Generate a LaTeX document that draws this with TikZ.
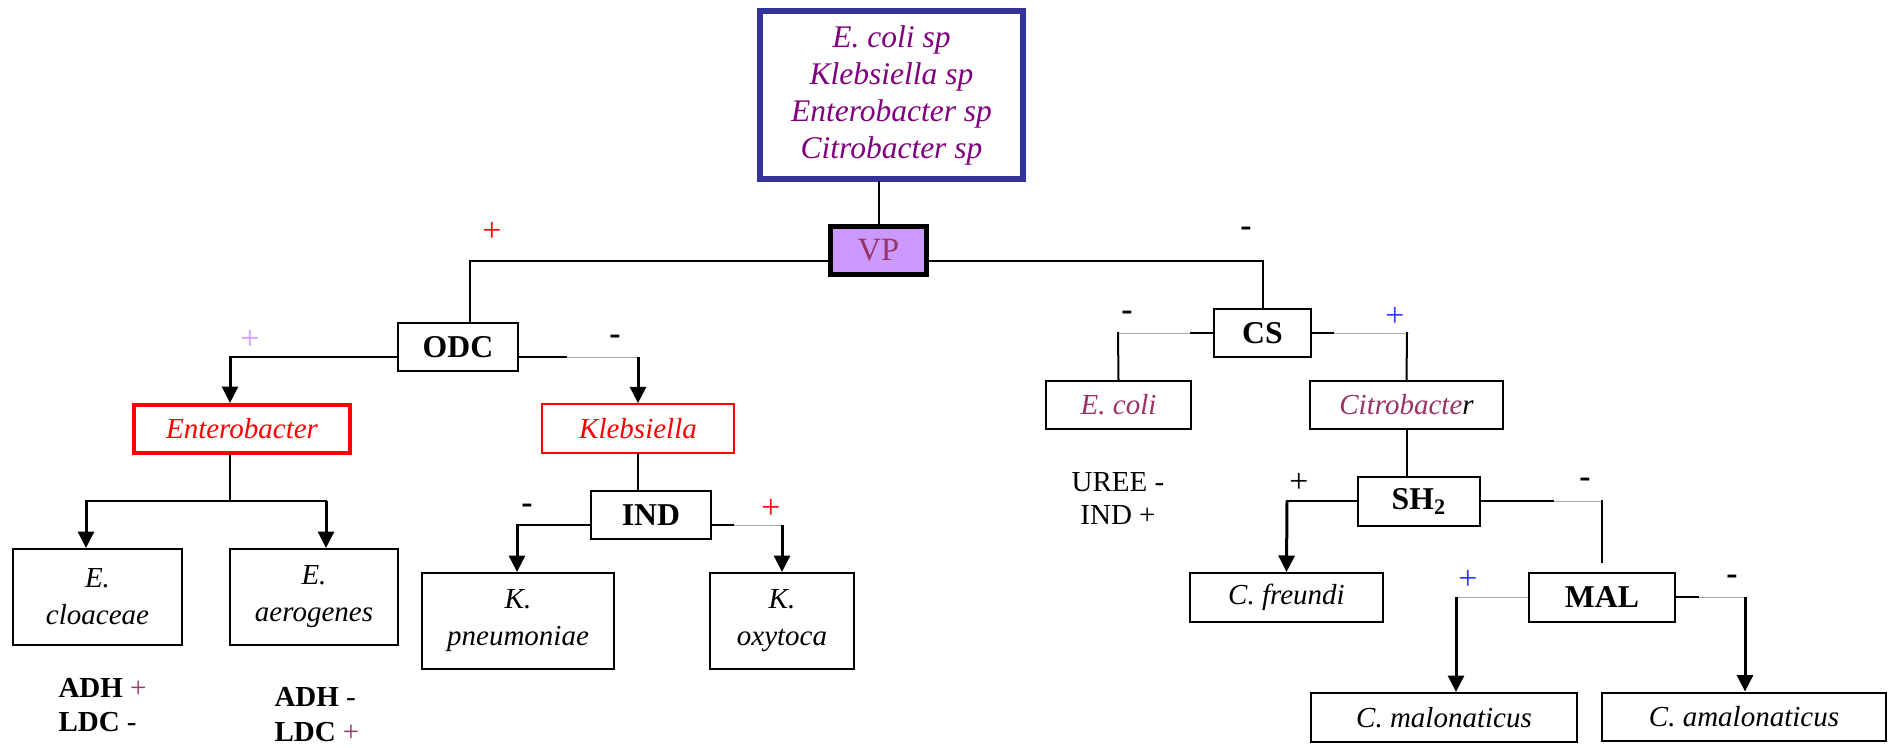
\documentclass[tikz,border=0pt]{standalone}
\usepackage{fontspec}
\setmainfont{Liberation Serif}
\usetikzlibrary{arrows.meta}
\definecolor{topblue}{HTML}{333399}
\definecolor{spurple}{HTML}{800080}
\definecolor{vpfill}{HTML}{CC99FF}
\definecolor{plum}{HTML}{993366}
\definecolor{lblue}{HTML}{3333FF}
\definecolor{faintgray}{HTML}{AAAAAA}

\begin{document}
\begin{tikzpicture}[x=0.4pt,y=-0.4pt,
  box/.style={draw,line width=0.8pt,inner sep=0pt,align=center,font=\fontsize{11.6}{14.8}\selectfont},
  spbox/.style={box,font=\fontsize{11.6}{14.8}\selectfont\itshape},
  testbox/.style={box,font=\fontsize{12.7}{14.8}\selectfont\bfseries},
  conn/.style={line width=0.8pt,line cap=rect},
  arr/.style={line width=1.2pt,-{Triangle[width=6.4pt,length=6.6pt]}},
  faint/.style={draw=faintgray,line width=0.4pt},
  sign/.style={inner sep=0pt,font=\fontsize{13.5}{14}\selectfont}]
\useasboundingbox (0,0) rectangle (1894,747);

% boxes
\node[box,draw=topblue,line width=2.4pt,minimum width=105.2pt,minimum height=67.2pt,
  text=spurple,font=\fontsize{12.6}{14.8}\selectfont\itshape] (top) at (891.5,95)
  {E. coli sp\\Klebsiella sp\\Enterobacter sp\\Citrobacter sp};
\node[box,line width=2.2pt,fill=vpfill,minimum width=38.4pt,minimum height=19.2pt,
  text=plum,font=\fontsize{13}{15}\selectfont] (vp) at (878.5,250.5) {VP};
\node[testbox,minimum width=48pt,minimum height=19.2pt] (odc) at (458,347) {ODC};
\node[spbox,draw=red,line width=1.6pt,text=red,minimum width=86.4pt,minimum height=19.2pt] (ent) at (242,429) {Enterobacter};
\node[spbox,draw=red,line width=0.6pt,text=red,minimum width=76.8pt,minimum height=19.6pt] (kleb) at (638,428.5) {Klebsiella};
\node[spbox,minimum width=67.6pt,minimum height=38.4pt] (eclo) at (97.5,597) {E.\\cloaceae};
\node[spbox,minimum width=67.2pt,minimum height=38.4pt] (eaer) at (314,597) {E.\\aerogenes};
\node[testbox,minimum width=48pt,minimum height=19.2pt] (ind) at (651,515) {IND};
\node[spbox,minimum width=76.8pt,minimum height=38.4pt] (kpn) at (518,621) {K.\\pneumoniae};
\node[spbox,minimum width=57.6pt,minimum height=38.4pt] (koxy) at (782,621) {K.\\oxytoca};
\node[testbox,minimum width=38.8pt,minimum height=19.2pt] (cs) at (1262.5,333) {CS};
\node[spbox,text=plum,minimum width=58pt,minimum height=19.2pt] (ecoli) at (1118.5,405) {E. coli};
\node[spbox,text=plum,minimum width=77.2pt,minimum height=19.2pt] (citro) at (1406.5,405) {Citrobacte\textcolor{black}{r}};
\node[testbox,minimum width=48.8pt,minimum height=19.6pt] (sh2) at (1419,501.5) {SH\textsubscript{2}};
\node[spbox,minimum width=77.2pt,minimum height=19.6pt] (cfreu) at (1286.5,597.5) {C. freundi};
\node[testbox,minimum width=58.4pt,minimum height=19.6pt] (mal) at (1602,597.5) {MAL};
\node[spbox,minimum width=106.4pt,minimum height=19.6pt] (cmal) at (1444,717.5) {C. malonaticus};
\node[spbox,minimum width=113.6pt,minimum height=19.2pt] (camal) at (1744,716.5) {C. amalonaticus};

% branch points
\coordinate (pL) at (470,261);
\coordinate (pR) at (1262,261);
\coordinate (oL) at (230,357);
\coordinate (oRs) at (566,357);
\coordinate (oR) at (638,357);
\coordinate (eJ) at (230,501);
\coordinate (eL) at (86,501);
\coordinate (eR) at (326,501);
\coordinate (iL) at (517,525);
\coordinate (iRs) at (733,525);
\coordinate (iR) at (782,525);
\coordinate (cLs) at (1191,333);
\coordinate (cL) at (1118,333);
\coordinate (cRs) at (1333,333);
\coordinate (cR) at (1407,333);
\coordinate (sL) at (1287,501);
\coordinate (sRs) at (1553,501);
\coordinate (sR) at (1602,501);
\coordinate (mL) at (1456,597);
\coordinate (mRs) at (1698,597);
\coordinate (mR) at (1745,597);

% connectors
\draw[conn] (vp.north |- top.south) -- (vp.north);
\draw[conn] (vp.west |- pL) -- (pL) -- (pL |- odc.north);
\draw[conn] (vp.east |- pR) -| (cs.north);
\draw[conn] (odc.west |- oL) -- (oL);
\draw[arr] (oL) -- (oL |- ent.north);
\draw[faint] (odc.east |- oR) -- (oR);
\draw[conn] (odc.east |- oR) -- (oRs);
\draw[arr] (oR) -- (kleb.north);
\draw[conn] (ent.south -| eJ) -- (eJ);
\draw[conn] (eL) -- (eR);
\draw[arr] (eL) -- (eL |- eclo.north);
\draw[arr] (eR) -- (eR |- eaer.north);
\draw[conn] (kleb.south) -- (kleb.south |- ind.north);
\draw[conn] (ind.west |- iL) -- (iL);
\draw[arr] (iL) -- (iL |- kpn.north);
\draw[faint] (ind.east |- iR) -- (iR);
\draw[conn] (ind.east |- iR) -- (iRs);
\draw[arr] (iR) -- (koxy.north);
\draw[faint] (cLs) -- (cL);
\draw[conn] (cs.west |- cL) -- (cLs);
\draw[conn] (cL) -- (ecoli.north);
\draw[faint] (cRs) -- (cR);
\draw[conn] (cs.east |- cR) -- (cRs);
\draw[conn] (cR) -- (citro.north);
\draw[conn] (citro.south) -- (citro.south |- sh2.north);
\draw[conn] (sh2.west |- sL) -- (sL);
\draw[arr] (sL) -- (cfreu.north);
\draw[faint] (sRs) -- (sR);
\draw[conn] (sh2.east |- sR) -- (sRs);
\draw[conn] (sR) -- ([yshift=4pt]mal.north);
\draw[faint] (mal.west |- mL) -- (mL);
\draw[arr] (mL) -- (mL |- cmal.north);
\draw[faint] (mRs) -- (mR);
\draw[conn] (mal.east |- mR) -- (mRs);
\draw[arr] (mR) -- (mR |- camal.north);

% signs
\node[sign,text=red] (s1) at (492,232) {+};
\node[sign] (s2) at (1246,232) {\textbf{-}};
\node[sign,text=vpfill] (s3) at (250,340) {+};
\node[sign] (s4) at (615,340) {\textbf{-}};
\node[sign] (s5) at (527,509) {\textbf{-}};
\node[sign,text=red] (s6) at (771,509) {+};
\node[sign] (s7) at (1127,316) {\textbf{-}};
\node[sign,text=lblue] (s8) at (1395,317) {+};
\node[sign] (s9) at (1299,483) {+};
\node[sign] (s10) at (1585,483) {\textbf{-}};
\node[sign,text=lblue] (s11) at (1468,580) {+};
\node[sign] (s12) at (1732,580) {\textbf{-}};

% extra tests
\node[sign,align=left,anchor=west,font=\fontsize{11.6}{13.6}\selectfont] (adh1) at (58,705)
  {\textbf{ADH} \textcolor{plum}{+}\\\textbf{LDC} -};
\node[sign,align=left,anchor=west,font=\fontsize{11.6}{14}\selectfont] (adh2) at (274,714.5)
  {\textbf{ADH} -\\\textbf{LDC} \textcolor{plum}{+}};
\node[sign,align=center,font=\fontsize{11.6}{13.2}\selectfont] (uree) at (1118,498.5)
  {UREE -\\IND +};
\end{tikzpicture}
\end{document}
